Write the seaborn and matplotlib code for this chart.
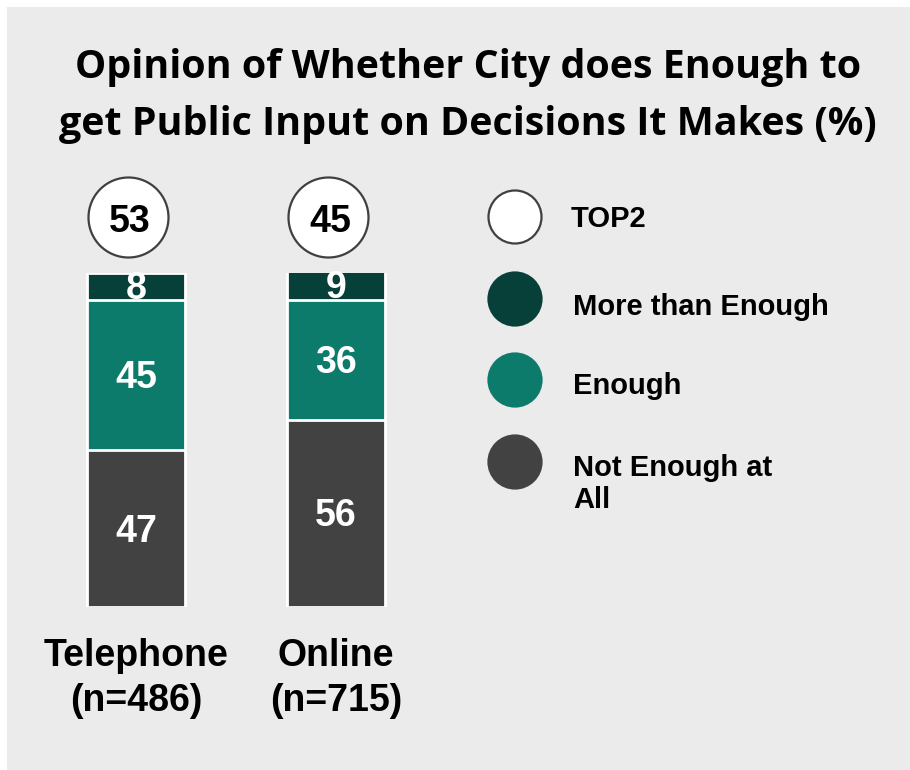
import matplotlib
matplotlib.use("Agg")
import matplotlib.pyplot as plt
from matplotlib.patches import Rectangle
import numpy as np
import pandas as pd
import seaborn as sns

# Survey results (%)
modes = ["Telephone\n(n=486)", "Online\n(n=715)"]
not_enough = [47, 56]
enough = [45, 36]
more_than_enough = [8, 9]
top2 = [53, 45]

series_names = ["TOP2", "More than Enough", "Enough", "Not Enough at\nAll"]

C_MORE = "#074038"
C_ENOUGH = "#0c7b6b"
C_NOT = "#424242"
C_BG = "#ebebeb"

sns.set_theme(style="white")
plt.rcParams["font.family"] = ["Liberation Sans", "DejaVu Sans"]

W, H = 910, 770
fig = plt.figure(figsize=(W / 100, H / 100), dpi=100, facecolor="white")

# grey panel behind everything
fig.patches.append(Rectangle((7 / W, 0), 1 - 7 / W, (H - 7) / H,
                             transform=fig.transFigure, facecolor=C_BG,
                             edgecolor="none", zorder=-10))

# title
fig.text(468 / W, 1 - 96 / H,
         "Opinion of Whether City does Enough to\nget Public Input on Decisions It Makes (%)",
         ha="center", va="center", fontsize=28.4, fontweight="bold",
         family=["Open Sans", "DejaVu Sans"], linespacing=1.6, color="black")

df = pd.DataFrame({
    "mode": modes,
    "not": not_enough,
    "enough": enough,
    "more": more_than_enough,
})
df["cum_enough"] = df["not"] + df["enough"]
df["cum_more"] = df["cum_enough"] + df["more"]

ax = fig.add_axes([36 / W, (H - 607) / H, 400 / W, 334 / H])
ax.set_facecolor("none")

bar_kw = dict(width=0.49, edgecolor="white", linewidth=2, ax=ax)
sns.barplot(data=df, x="mode", y="cum_more", color=C_MORE, saturation=1, **bar_kw)
sns.barplot(data=df, x="mode", y="cum_enough", color=C_ENOUGH, saturation=1, **bar_kw)
sns.barplot(data=df, x="mode", y="not", color=C_NOT, saturation=1, **bar_kw)

ax.set_xlim(-0.5, 1.5)
ax.set_ylim(0, 100)
ax.set_xlabel("")
ax.set_ylabel("")
ax.set_yticks([])
for s in ax.spines.values():
    s.set_visible(False)
ax.tick_params(axis="x", length=0, pad=22)
ax.set_xticks(range(len(modes)))
ax.set_xticklabels(modes, fontsize=27, fontweight="bold", color="black",
                   linespacing=1.35)

# segment labels
lab_kw = dict(ha="center", va="center", color="white", fontsize=27,
              fontweight="bold")
for i in range(len(modes)):
    b0 = 0
    for v in (not_enough[i], enough[i], more_than_enough[i]):
        ax.text(i, b0 + v / 2 - 0.9, f"{v}", **lab_kw)
        b0 += v

# TOP2 bubbles above the bars
xs = np.arange(len(modes)) - 0.04
ax.scatter(xs, [116.8] * len(modes), s=(80 * 0.72) ** 2, color="white",
           edgecolor="#404040", linewidth=1.6, clip_on=False, zorder=5)
for x, v in zip(xs, top2):
    ax.text(x + 0.01, 115.2, f"{v}", ha="center", va="center", color="black",
            fontsize=27, fontweight="bold", zorder=6, clip_on=False)

# legend
leg = fig.add_axes([0, 0, 1, 1])
leg.set_xlim(0, W)
leg.set_ylim(H, 0)
leg.axis("off")
leg.patch.set_visible(False)
leg_y = [217, 299, 380, 462]
leg_colors = ["white", C_MORE, C_ENOUGH, C_NOT]
leg_edges = ["#404040", C_MORE, C_ENOUGH, C_NOT]
text_x = [571, 573, 573, 573]
text_y = [219, 307, 386, 484]
leg.scatter([515] * 4, leg_y, s=(53 * 0.72) ** 2, c=leg_colors,
            edgecolors=leg_edges, linewidths=1.6, zorder=5)
for name, tx, ty in zip(series_names, text_x, text_y):
    leg.text(tx, ty, name, ha="left", va="center", fontsize=21,
             fontweight="bold", color="black", linespacing=1.2)

fig.savefig("out.png", dpi=100, facecolor="white")
